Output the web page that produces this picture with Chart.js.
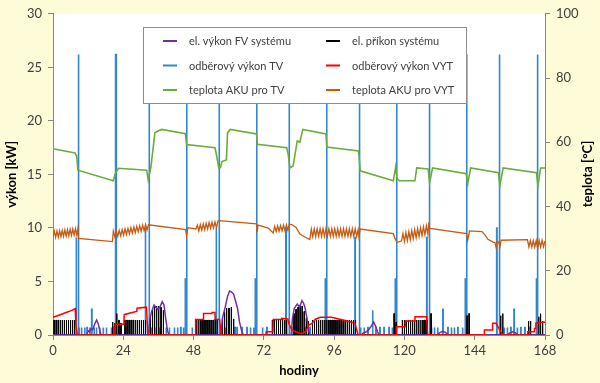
<!DOCTYPE html>
<html>
<head>
<meta charset="utf-8">
<script src="https://cdn.jsdelivr.net/npm/chart.js@4.4.1/dist/chart.umd.min.js"></script>
<style>
  html, body { margin: 0; padding: 0; background: #fefbd8; }
  #wrap { width: 600px; height: 383px; }
</style>
</head>
<body>
<div id="wrap"><canvas id="chart" width="600" height="383"></canvas></div>
<script>
// axis ticks
const hourTicks = [0, 24, 48, 72, 96, 120, 144, 168];
const powerTicks = [0, 5, 10, 15, 20, 25, 30];
const tempTicks = [0, 20, 40, 60, 80, 100];

const seriesLabels = [
  'el. výkon FV systému', 'el. příkon systému',
  'odběrový výkon TV', 'odběrový výkon VYT',
  'teplota AKU pro TV', 'teplota AKU pro VYT'
];

// [hour, kW] – tall draw-offs of hot water
const tvSpikes = [
  [8.65, 26.2], [21.5, 26.2], [32.8, 26.2], [45.6, 26.2], [56.7, 26.2], [69.5, 26.2], [80.6, 26.2],
  [93.4, 26.2], [104.6, 26.2], [117.3, 26.2], [128.5, 26.2], [141.2, 26.2], [152.4, 26.2], [165.4, 26.2],
  [7.9, 9.1], [21.2, 5.3], [31.5, 10], [45.1, 5.3], [55.7, 10], [69.0, 5.3], [79.5, 10],
  [92.9, 5.3], [103.1, 9.1], [116.8, 5.3], [127.6, 9.1], [140.7, 5.3], [151.5, 10], [165.0, 5.3]
];
// [hour, kW] – small draw-offs
const tvSmall = [
  [8.9, 0.7], [9.7, 0.7], [10.8, 0.7], [11.6, 0.7], [12.5, 0.7], [13.2, 2.4], [14, 0.7], [14.8, 0.7],
  [15.9, 0.7], [17.1, 0.7], [18.2, 0.7], [19.9, 0.7], [20.4, 0.7],
  [33.6, 0.7], [34.7, 0.7], [36.4, 0.7], [38.6, 0.7], [39.7, 0.7], [41.4, 0.7], [42.5, 0.7], [43.6, 0.7], [44.5, 0.7],
  [47.5, 0.7], [57.3, 0.7], [58.8, 0.7], [62.1, 0.7], [62.8, 0.7], [64.5, 0.7], [66.2, 0.7], [67.4, 0.7], [68.5, 0.7],
  [71.5, 0.7], [73, 0.7], [81.5, 0.7], [83.2, 0.7], [86, 0.7], [87.7, 0.7],
  [105, 0.7], [106.2, 0.7], [107.5, 0.7], [109.1, 2.3], [110.2, 0.7], [111.6, 0.7], [113, 0.7], [114.7, 0.7], [115.8, 0.7],
  [129.2, 0.7], [130.2, 0.7], [131.3, 0.7], [133.1, 2.4], [134.8, 0.7], [136, 0.7], [137, 0.7], [138.2, 0.7], [139.8, 0.7],
  [154, 0.7], [155.1, 0.7], [156.3, 0.7], [157.4, 2.4], [158.5, 0.7], [159.7, 0.7], [161.1, 0.7], [162.8, 0.7]
];

// [hour, kW] – heat pump on-cycles
const elPulses = [
  [0.3, 1.4], [1.0, 1.4], [1.7, 1.4], [2.4, 1.4], [3.1, 1.4], [3.8, 1.4], [4.5, 1.4], [5.2, 1.4], [5.9, 1.4], [6.6, 1.4], [7.3, 1.4],
  [20.3, 1.2], [21.0, 1.1], [21.7, 2.0], [22.4, 1.4], [23.1, 1.1], [24.5, 1.4], [25.2, 1.4], [25.9, 1.4], [26.6, 1.4],
  [27.3, 1.4], [28.0, 1.4], [28.7, 1.4], [29.4, 1.4], [30.1, 1.4], [30.8, 1.4], [31.5, 1.4],
  [33.2, 1.8], [33.9, 2.4], [34.6, 2.7], [35.3, 2.7], [36.0, 2.7], [36.8, 2.6], [37.6, 2.3],
  [49.0, 1.4], [49.7, 1.4], [50.4, 1.4], [51.1, 1.4], [51.8, 1.4], [52.5, 1.4], [53.2, 1.4], [53.9, 1.4], [54.6, 1.4], [55.3, 1.5], [56.0, 1.5],
  [57.8, 1.6], [58.5, 2.2], [59.2, 2.5], [60.0, 2.5], [60.8, 2.6], [61.6, 1.5],
  [74.8, 1.4], [75.5, 1.4], [76.2, 1.5], [76.9, 1.5], [77.6, 1.5], [78.3, 1.5], [79.0, 1.4], [79.7, 1.4],
  [82.2, 2.0], [82.9, 2.4], [83.6, 2.6], [84.3, 2.8], [85.0, 2.7], [85.7, 2.2], [86.4, 1.6], [87.1, 1.3],
  [88.5, 1.4], [89.2, 1.4], [89.9, 1.4], [90.6, 1.4], [91.3, 1.4], [92.0, 1.4], [92.7, 1.4], [93.4, 1.4], [94.1, 1.4],
  [94.8, 1.4], [95.5, 1.4], [96.2, 1.4], [96.9, 1.4], [97.6, 1.4], [98.3, 1.4], [99.0, 1.4], [99.7, 1.4], [100.4, 1.4],
  [101.1, 1.4], [101.8, 1.4], [102.5, 1.4], [103.2, 1.4],
  [116.4, 2.0], [117.1, 1.2], [119.2, 1.4], [119.9, 1.4], [120.6, 1.4], [121.3, 1.4], [122.0, 1.4], [122.7, 1.4], [123.4, 1.4],
  [124.1, 1.4], [124.8, 1.4], [125.5, 1.4], [126.2, 1.4], [126.9, 1.4], [127.6, 1.4], [129.0, 2.0],
  [141.3, 1.8], [142.0, 2.0], [152.8, 1.8], [153.5, 2.0],
  [162.3, 1.3], [163.0, 1.3], [165.8, 1.7], [166.4, 2.0], [167.1, 1.3]
];

// [hour, kW]
const fvPower = [
  [0, 0], [11.5, 0], [12, 0.4], [12.5, 0.3], [13, 0.6], [13.6, 0.5], [14.2, 1.0], [14.9, 1.4], [15.5, 1.0], [16, 0.4], [16.4, 0],
  [32.6, 0], [33.1, 1.5], [33.7, 2.2], [34.5, 2.8], [35.1, 2.6], [35.8, 2.4], [36.5, 2.6], [37.3, 3.1], [37.9, 2.8], [38.5, 1.5], [39.1, 0.4], [39.6, 0],
  [57.4, 0], [57.8, 1.5], [58.8, 2.6], [59.6, 3.6], [60.3, 4.1], [61, 4.0], [61.7, 3.8], [62.3, 3.2], [63, 2.5], [63.7, 1.2], [64.4, 0.4], [65, 0],
  [81.3, 0], [81.8, 1.6], [82.4, 2.5], [83.4, 2.9], [84.2, 2.6], [85, 3.2], [85.5, 3.0], [86, 2.6], [86.7, 1.6], [87.3, 0.4], [87.7, 0],
  [105.3, 0], [106, 0.2], [107, 0.3], [107.8, 0.5], [108.6, 0.8], [109.5, 1.2], [110.2, 0.8], [110.8, 0.3], [111.4, 0],
  [131, 0], [132, 0.2], [133, 0.35], [134, 0.25], [135, 0],
  [155, 0], [156, 0.2], [157, 0.3], [158, 0.2], [158.8, 0], [168, 0]
];

// [hour, kW]
const vytPower = [
  [0, 1.65], [2, 1.85], [4, 2.05], [6, 2.25], [7.6, 2.45], [7.8, 1.0], [8.3, 0],
  [21.1, 0], [21.2, 1.0], [24.2, 1.0], [24.3, 1.9], [27, 2.1], [28.6, 2.2], [28.7, 2.5], [31.9, 2.6], [32.4, 0],
  [48.6, 0], [48.7, 1.45], [51.3, 1.45], [51.4, 2.0], [54.2, 2.0], [54.3, 2.1], [55.3, 2.1], [55.4, 1.45], [56.9, 1.45], [57.4, 0],
  [72.7, 0], [72.8, 0.3], [75.1, 0.3], [75.2, 1.45], [78.0, 1.45], [78.1, 1.55], [80.2, 1.5], [80.5, 1.1], [81.5, 0.5],
  [83, 0.3], [84.9, 0.1], [86.5, 0.4], [87.2, 0.9], [88.5, 1.1], [89.5, 1.45], [91.2, 1.65], [95.1, 1.65], [99, 1.4],
  [103.1, 1.1], [103.6, 0.6], [104.2, 0],
  [117.2, 0], [117.3, 0.78], [120.2, 0.78], [120.3, 1.3], [123.5, 1.3], [123.6, 1.7], [127.6, 1.7], [127.9, 0],
  [147.2, 0], [147.3, 0.47], [150.0, 0.47], [150.1, 1.1], [151.3, 1.1], [153.5, 0],
  [162, 0], [162.1, 0.3], [164.3, 0.3], [164.4, 0.6], [164.8, 0.6], [164.9, 1.1], [167.7, 1.2], [168, 1.2]
];

// [hour, °C]
const tempTV = [
  [0, 58], [7.5, 56.7], [8.1, 55.7], [8.5, 51.3], [20.6, 48], [21.2, 50.1], [22.3, 51.9], [32, 51.3], [32.5, 48.3],
  [33.4, 52], [34.8, 63], [37.1, 64], [45.2, 62.7], [45.6, 59.3], [55.3, 58.3], [55.8, 56.2], [56.6, 52], [57.2, 52.2],
  [57.7, 54], [59.2, 54.5], [59.6, 63], [60.5, 64], [69.5, 62.6], [69.8, 59.4], [79.8, 58.3], [80.3, 56.3], [80.9, 52],
  [82, 52.6], [83.4, 60.4], [84.3, 60], [85.3, 64], [93.2, 62.6], [93.5, 58.5], [104.3, 57.3], [104.5, 55.7], [104.9, 51.1],
  [116.2, 48], [117, 52.3], [117.5, 48.6], [118.3, 48], [123.6, 48], [124.2, 52], [128.1, 51.7], [128.6, 47.4], [129.6, 52],
  [141.1, 50.2], [141.6, 47], [142.6, 52], [152.1, 50.5], [152.6, 46.5], [153.7, 52], [165.1, 50.5], [165.6, 46.4],
  [166.5, 52], [168, 52]
];

// [hour, °C]
const tempVYT = [
  [0, 30.5], [0.45, 32.3], [0.9, 30.4], [1.35, 32.4], [1.8, 30.5], [2.25, 32.5], [2.7, 30.6], [3.15, 32.6], [3.6, 30.7],
  [4.05, 32.7], [4.5, 30.8], [4.95, 32.8], [5.4, 30.9], [5.85, 32.9], [6.3, 31.0], [6.75, 33.0], [7.2, 31.1], [7.65, 33.1],
  [8.1, 31.2], [8.5, 33.2], [8.7, 30.1], [20.3, 29.1],
  [20.6, 32.3], [21.1, 30.6], [21.6, 32.4], [22.1, 30.7], [22.6, 32.6], [23.1, 30.9], [23.6, 32.8], [24.1, 31.1], [24.6, 33.0],
  [25.1, 31.3], [25.6, 33.2], [26.1, 31.5], [26.6, 33.4], [27.1, 31.7], [27.6, 33.6], [28.1, 31.9], [28.6, 33.8], [29.1, 32.1],
  [29.6, 34.0], [30.1, 32.3], [30.6, 34.2], [31.1, 32.5], [31.6, 34.4], [32.1, 32.7], [32.6, 34.3],
  [45.3, 32.8], [45.6, 31.0], [46.1, 33.4], [48.8, 33.0], [49.3, 34.2], [49.8, 32.4], [50.3, 34.4], [50.8, 32.6], [51.3, 34.6],
  [51.8, 32.8], [52.3, 34.8], [52.8, 33.0], [53.3, 35.0], [53.8, 33.2], [54.3, 35.1], [54.8, 33.3], [55.3, 35.2], [55.8, 33.4],
  [56.3, 35.4], [56.7, 35.6],
  [69.5, 34.6], [69.7, 31.9], [70.0, 34.2], [73.5, 33.3], [75.2, 31.8], [75.7, 33.8], [76.2, 32.2], [76.7, 34.0], [77.2, 32.3],
  [77.7, 34.1], [78.2, 32.4], [78.7, 34.2], [79.2, 32.5], [79.7, 34.3], [80.2, 32.6], [80.7, 34.5], [81.5, 34.4], [83, 33.5],
  [84.3, 31.4], [86, 30.5], [87.7, 29.7],
  [88.2, 33.0], [88.7, 30.6], [89.2, 33.0], [89.7, 30.6], [90.2, 33.1], [90.7, 30.7], [91.2, 33.1], [91.7, 30.7], [92.2, 33.1],
  [92.7, 30.7], [93.2, 33.1], [93.7, 30.7], [94.2, 33.1], [94.7, 30.7], [95.2, 33.1], [95.7, 30.7], [96.2, 33.1], [96.7, 30.7],
  [97.2, 33.1], [97.7, 30.7], [98.2, 33.1], [98.7, 30.7], [99.2, 33.1], [99.7, 30.7], [100.2, 33.1], [100.7, 30.7], [101.2, 33.1],
  [101.7, 30.7], [102.2, 33.1], [102.7, 30.7], [103.2, 33.1], [103.7, 30.7],
  [104.2, 32.8], [104.5, 30.5], [104.9, 33.0], [116.2, 31.6], [116.8, 30.0], [117.5, 28.8], [119, 29.3],
  [119.5, 31.6], [120.0, 29.1], [120.5, 31.9], [121.0, 29.4], [121.5, 32.2], [122.0, 29.7], [122.5, 32.5], [123.0, 30.0],
  [123.5, 32.8], [124.0, 30.3], [124.5, 33.1], [125.0, 30.6], [125.5, 33.4], [126.0, 30.9], [126.5, 33.7], [127.0, 31.2],
  [127.5, 34.0], [128.0, 31.4], [128.3, 34.4],
  [128.7, 33.2], [141.2, 31.6], [141.6, 29.4], [142.2, 32.4], [146.5, 32.2], [147.5, 31.2], [148.5, 29.8], [150.3, 28.9],
  [150.9, 28.8], [151.3, 27.3], [151.7, 29.2], [152.2, 29.0], [152.6, 27.4], [153.0, 29.5], [162, 29.7],
  [162.5, 27.4], [163, 29.4], [163.5, 27.4], [164, 29.4], [164.5, 27.4], [165, 29.4], [165.5, 26.9], [166, 29.4],
  [166.5, 27.4], [167, 29.5], [167.5, 27.5], [168, 29.3]
];

const toPoints = arr => arr.map(([x, y]) => ({ x, y }));

// turn [hour, value] events into thin rectangular pulses sitting on zero
function pulses(list, width) {
  const pts = [{ x: 0, y: 0 }];
  list.slice().sort((a, b) => a[0] - b[0]).forEach(([t, v]) => {
    pts.push({ x: t, y: 0 }, { x: t, y: v }, { x: t + width, y: v }, { x: t + width, y: 0 });
  });
  pts.push({ x: 168, y: 0 });
  return pts;
}

const colors = ['#7030a0', '#000000', '#2f87cf', '#ff0000', '#6aad3a', '#c55a11'];
const fontFam = 'Lato, "Open Sans", sans-serif';

const lineDefaults = { pointRadius: 0, tension: 0, fill: false };

const datasets = [
  { ...lineDefaults, label: seriesLabels[0], data: toPoints(fvPower), borderColor: colors[0], borderWidth: 1.5, yAxisID: 'y', order: 4 },
  { ...lineDefaults, label: seriesLabels[1], data: pulses(elPulses, 0.15), borderColor: colors[1], borderWidth: 1, yAxisID: 'y', order: 5 },
  { ...lineDefaults, label: seriesLabels[2], data: pulses(tvSpikes.concat(tvSmall), 0.12), borderColor: colors[2], borderWidth: 1.6, yAxisID: 'y', order: 6 },
  { ...lineDefaults, label: seriesLabels[3], data: toPoints(vytPower), borderColor: colors[3], borderWidth: 1.5, yAxisID: 'y', order: 3 },
  { ...lineDefaults, label: seriesLabels[4], data: toPoints(tempTV), borderColor: colors[4], borderWidth: 1.6, yAxisID: 'y1', order: 2 },
  { ...lineDefaults, label: seriesLabels[5], data: toPoints(tempVYT), borderColor: colors[5], borderWidth: 1.3, yAxisID: 'y1', order: 1 }
];

// white plot area on the cream background
const plotBg = {
  id: 'plotBg',
  beforeDraw(chart) {
    const { ctx, chartArea: a } = chart;
    ctx.save();
    ctx.fillStyle = '#fefbd8';
    ctx.fillRect(0, 0, chart.width, chart.height);
    ctx.fillStyle = '#ffffff';
    ctx.fillRect(a.left, a.top, a.right - a.left, a.bottom - a.top);
    ctx.restore();
  }
};

// boxed two-column legend inside the plot, plus the right axis title
const legendBox = {
  id: 'legendBox',
  afterDraw(chart) {
    const ctx = chart.ctx;
    ctx.save();
    ctx.fillStyle = '#ffffff';
    ctx.fillRect(143.5, 27.5, 323, 76);
    ctx.strokeStyle = '#8c8c8c';
    ctx.lineWidth = 1;
    ctx.strokeRect(143.5, 27.5, 323, 76);
    ctx.font = '11px ' + fontFam;
    ctx.textBaseline = 'middle';
    ctx.textAlign = 'left';
    chart.data.datasets.forEach((ds, i) => {
      const col = i % 2, row = Math.floor(i / 2);
      const x = col === 0 ? 163 : 326;
      const y = 41 + row * 24.5;
      ctx.strokeStyle = ds.borderColor;
      ctx.lineWidth = 2;
      ctx.beginPath();
      ctx.moveTo(x, y);
      ctx.lineTo(x + 14, y);
      ctx.stroke();
      ctx.fillStyle = '#404040';
      ctx.fillText(ds.label, x + 26, y + 0.5);
    });
    ctx.translate(588, 174);
    ctx.rotate(-Math.PI / 2);
    ctx.textAlign = 'center';
    ctx.fillStyle = '#000000';
    ctx.font = 'bold 13px ' + fontFam;
    ctx.fillText('teplota [°C]', 0, 0);
    ctx.restore();
  }
};

const axisGrid = { display: true, drawOnChartArea: false, drawTicks: true, tickLength: 5, color: '#868686' };
const axisBorder = { display: true, color: '#868686', width: 1 };
const tickFont = { family: fontFam, size: 13 };

new Chart(document.getElementById('chart'), {
  type: 'line',
  data: { datasets },
  options: {
    responsive: false,
    animation: false,
    devicePixelRatio: 1,
    parsing: false,
    layout: { padding: { top: 12, left: 0, right: 0, bottom: 0 } },
    scales: {
      x: {
        type: 'linear', min: 0, max: 168,
        afterBuildTicks: s => { s.ticks = hourTicks.map(v => ({ value: v })); },
        afterFit: s => { s.height = 48; },
        ticks: { font: tickFont, color: '#404040', padding: 3, maxRotation: 0 },
        grid: axisGrid, border: axisBorder,
        title: { display: true, text: 'hodiny', color: '#000', font: { family: fontFam, size: 13, weight: 'bold' } }
      },
      y: {
        position: 'left', min: 0, max: 30,
        afterBuildTicks: s => { s.ticks = powerTicks.map(v => ({ value: v })); },
        afterFit: s => { s.width = 53; },
        ticks: { font: tickFont, color: '#404040', padding: 6 },
        grid: axisGrid, border: axisBorder,
        title: { display: true, text: 'výkon [kW]', color: '#000', font: { family: fontFam, size: 13, weight: 'bold' } }
      },
      y1: {
        position: 'right', min: 0, max: 100,
        afterBuildTicks: s => { s.ticks = tempTicks.map(v => ({ value: v })); },
        afterFit: s => { s.width = 55; },
        ticks: { font: tickFont, color: '#404040', padding: 6 },
        grid: axisGrid, border: axisBorder
      }
    },
    plugins: { legend: { display: false }, tooltip: { enabled: false } }
  },
  plugins: [plotBg, legendBox]
});
</script>
</body>
</html>
